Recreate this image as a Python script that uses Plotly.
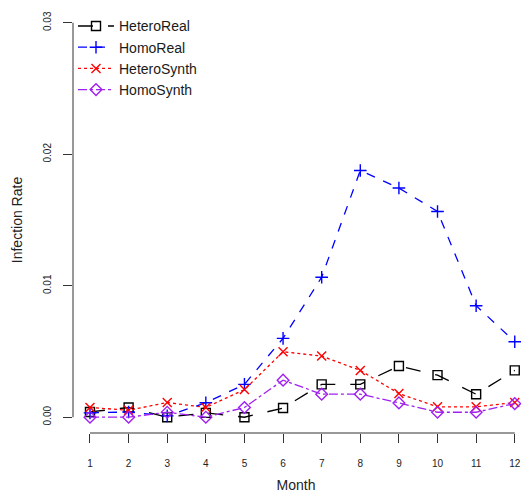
import plotly.graph_objects as go

months = [1, 2, 3, 4, 5, 6, 7, 8, 9, 10, 11, 12]
hetero_real = [0.0004, 0.00074, 0.0, 0.00033, 0.0, 0.0007, 0.0025, 0.0025, 0.0039, 0.0032, 0.00175, 0.00356]
homo_real = [0.00033, 0.0004, 0.0001, 0.0011, 0.0025, 0.006, 0.01065, 0.01877, 0.01743, 0.01565, 0.00848, 0.00574]
hetero_synth = [0.00074, 0.00053, 0.00112, 0.00074, 0.0021, 0.00498, 0.00465, 0.00356, 0.0018, 0.00079, 0.00079, 0.00112]
homo_synth = [0.0, 0.0, 0.00038, 0.0, 0.00074, 0.00282, 0.00175, 0.00175, 0.00109, 0.00038, 0.00038, 0.00104]
y_ticks = [0.0, 0.01, 0.02, 0.03]
y_tick_labels = ["0.00", "0.01", "0.02", "0.03"]
x_tick_labels = [str(m) for m in months]

FONT = "Liberation Sans, Arial, Helvetica, sans-serif"

series = [
    ("HeteroReal", hetero_real, "black", "longdash", "square-open"),
    ("HomoReal", homo_real, "blue", "dash", "cross-thin-open"),
    ("HeteroSynth", hetero_synth, "red", "dot", "x-thin-open"),
    ("HomoSynth", homo_synth, "#A020F0", "dashdot", "diamond-open"),
]

fig = go.Figure()
for name, vals, color, dash, sym in series:
    fig.add_trace(go.Scatter(
        x=months, y=vals, name=name, mode="lines+markers",
        line=dict(color=color, dash=dash, width=1.3),
        marker=dict(symbol=sym, size=9, color=color, line=dict(color=color, width=1.4)),
        cliponaxis=False,
    ))

axis_color = "#333333"
# R-style axis lines spanning only first to last tick
fig.add_shape(type="line", xref="paper", yref="y", x0=0, x1=0,
              y0=y_ticks[0], y1=y_ticks[-1], line=dict(color=axis_color, width=1))
fig.add_shape(type="line", xref="x", yref="paper", x0=months[0], x1=months[-1],
              y0=0, y1=0, line=dict(color=axis_color, width=1))

fig.update_layout(
    width=521, height=496,
    margin=dict(l=73, r=0, t=7, b=63),
    paper_bgcolor="white", plot_bgcolor="white",
    font=dict(family=FONT, color="#222222"),
    showlegend=True,
    legend=dict(x=0, y=0.992, xanchor="left", yanchor="top",
                font=dict(size=14, family=FONT, color="#1a1a1a"),
                bgcolor="rgba(0,0,0,0)", tracegroupgap=0, itemwidth=36),
    xaxis=dict(range=[0.56, 12.11], tickmode="array", tickvals=months, ticktext=x_tick_labels,
               showgrid=False, zeroline=False, showline=False,
               ticks="outside", ticklen=9, tickcolor=axis_color,
               tickfont=dict(size=10, family=FONT, color="#222222"),
               ticklabelstandoff=12, ticklabeloverflow="allow",
               title=dict(text="Month", font=dict(size=14, family=FONT, color="#222222"), standoff=12)),
    yaxis=dict(range=[-0.0012, 0.0312], tickmode="array", tickvals=y_ticks, ticktext=y_tick_labels,
               showgrid=False, zeroline=False, showline=False,
               ticks="outside", ticklen=9, tickcolor=axis_color, tickangle=-90,
               tickfont=dict(size=10, family=FONT, color="#222222"),
               ticklabelstandoff=8,
               title=dict(text="Infection Rate", font=dict(size=14, family=FONT, color="#222222"), standoff=16)),
)

fig.write_html("out.html")
